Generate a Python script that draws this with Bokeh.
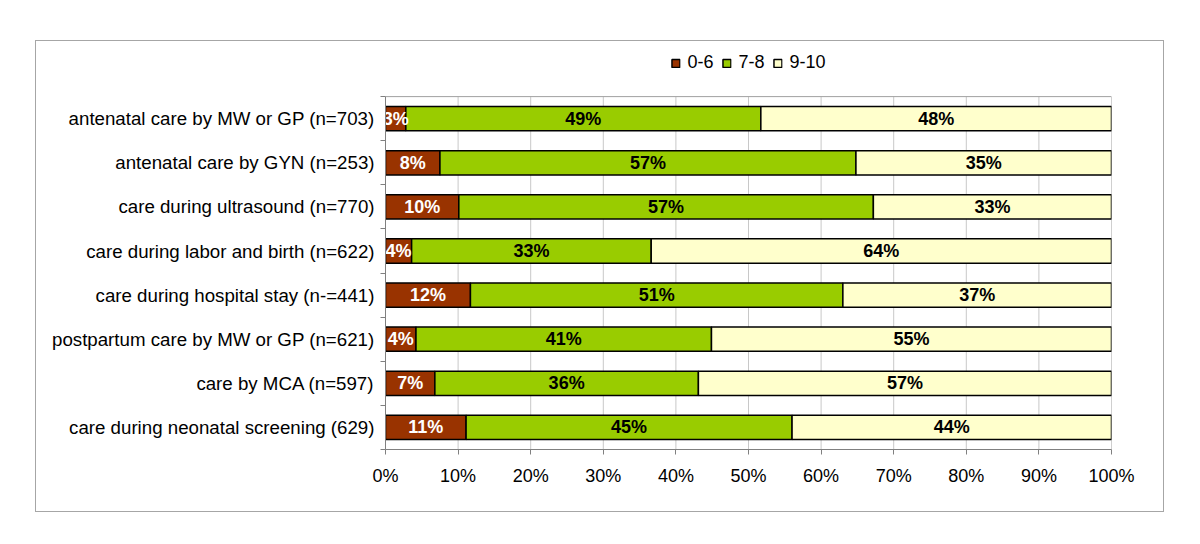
from bokeh.plotting import figure
from bokeh.models import (ColumnDataSource, FixedTicker, Legend, LegendItem,
                          NumeralTickFormatter)
from bokeh.core.properties import value
from bokeh.embed import file_html
from bokeh.resources import INLINE
import numpy as np

categories = [
    "antenatal care by MW or GP (n=703)",
    "antenatal care by GYN (n=253)",
    "care during ultrasound (n=770)",
    "care during labor and birth (n=622)",
    "care during hospital stay (n-=441)",
    "postpartum care by MW or GP (n=621)",
    "care by MCA (n=597)",
    "care during neonatal screening (629)",
]
low = [2.8, 7.5, 10.1, 3.6, 11.7, 4.2, 6.8, 11.1]
mid = [48.9, 57.3, 57.1, 33.0, 51.3, 40.7, 36.3, 44.9]
high = [48.3, 35.2, 32.8, 63.4, 37.0, 55.1, 56.9, 44.0]
low_labels = ["3%", "8%", "10%", "4%", "12%", "4%", "7%", "11%"]
mid_labels = ["49%", "57%", "57%", "33%", "51%", "41%", "36%", "45%"]
high_labels = ["48%", "35%", "33%", "64%", "37%", "55%", "57%", "44%"]
series = ["0-6", "7-8", "9-10"]
colors = ["#993300", "#99CC00", "#FFFFCC"]
xticks = list(range(0, 101, 10))

n = len(categories)
ypos = [n - 0.5 - i for i in range(n)]

src = ColumnDataSource(dict(y=ypos, low=low, mid=mid, high=high))

FONT = "Liberation Sans"
FS = "18px"

p = figure(width=1129, height=472, x_range=(0, 100), y_range=(0, n + 1),
           output_backend="svg", toolbar_location=None,
           min_border_left=349, min_border_right=54,
           min_border_top=11, min_border_bottom=64)
p.margin = (40, 0, 0, 35)
p.styles = {"border": "1px solid #a6a6a6"}
p.outline_line_color = None
p.background_fill_color = "white"

# grid lines and plot-area border limited to the bar region
p.segment(x0=xticks[1:-1], x1=xticks[1:-1], y0=[0] * (len(xticks) - 2),
          y1=[n] * (len(xticks) - 2), line_color="#c8c8c8", line_width=1)
p.segment(x0=[0, 100], x1=[100, 100], y0=[n, 0], y1=[n, n],
          line_color="#a0a0a0", line_width=1)

rs = p.hbar_stack(["low", "mid", "high"], y="y", height=0.55, source=src,
                  fill_color=colors, line_color="black", line_width=1.5)

lo = np.array(low); mi = np.array(mid); hi = np.array(high)
for xs, labs, col in [(lo / 2, low_labels, "white"),
                      (lo + mi / 2, mid_labels, "black"),
                      (lo + mi + hi / 2, high_labels, "black")]:
    p.text(x=list(xs), y=ypos, text=labs, text_color=col,
           text_font=value(FONT), text_font_style="bold", text_font_size=FS,
           text_align="center", text_baseline="middle")

# x axis
p.xaxis.ticker = FixedTicker(ticks=xticks)
p.xaxis.formatter = NumeralTickFormatter(format="0")
p.xaxis.major_label_overrides = {t: f"{t}%" for t in xticks}
p.xaxis.major_label_text_font = FONT
p.xaxis.major_label_text_font_size = FS
p.xaxis.major_label_text_color = "black"
p.xaxis.major_tick_in = 0
p.xaxis.major_tick_out = 5
p.xaxis.major_tick_line_color = "#808080"
p.xaxis.minor_tick_line_color = None
p.xaxis.axis_line_color = "#808080"
p.xaxis.major_label_standoff = 11

# y axis
p.yaxis.bounds = (0, n)
p.yaxis.ticker = FixedTicker(ticks=ypos, minor_ticks=list(range(0, n + 1)))
p.yaxis.major_label_overrides = {y: c for y, c in zip(ypos, categories)}
p.yaxis.major_label_text_font = FONT
p.yaxis.major_label_text_font_size = "18.7px"
p.yaxis.major_label_text_color = "black"
p.yaxis.major_tick_line_color = None
p.yaxis.minor_tick_in = 0
p.yaxis.minor_tick_out = 5
p.yaxis.minor_tick_line_color = "#808080"
p.yaxis.axis_line_color = "#808080"
p.yaxis.major_label_standoff = 5

p.xgrid.grid_line_color = None
p.ygrid.grid_line_color = None

legend = Legend(items=[LegendItem(label=s, renderers=[r]) for s, r in zip(series, rs)],
                orientation="horizontal", location="top_center",
                padding=0, margin=0, spacing=8, label_standoff=7,
                glyph_width=10, glyph_height=10,
                label_text_font=FONT, label_text_font_size=FS,
                label_text_color="black",
                border_line_color=None, background_fill_alpha=0)
p.add_layout(legend, "center")

open("out.html", "w").write(file_html(p, INLINE))
